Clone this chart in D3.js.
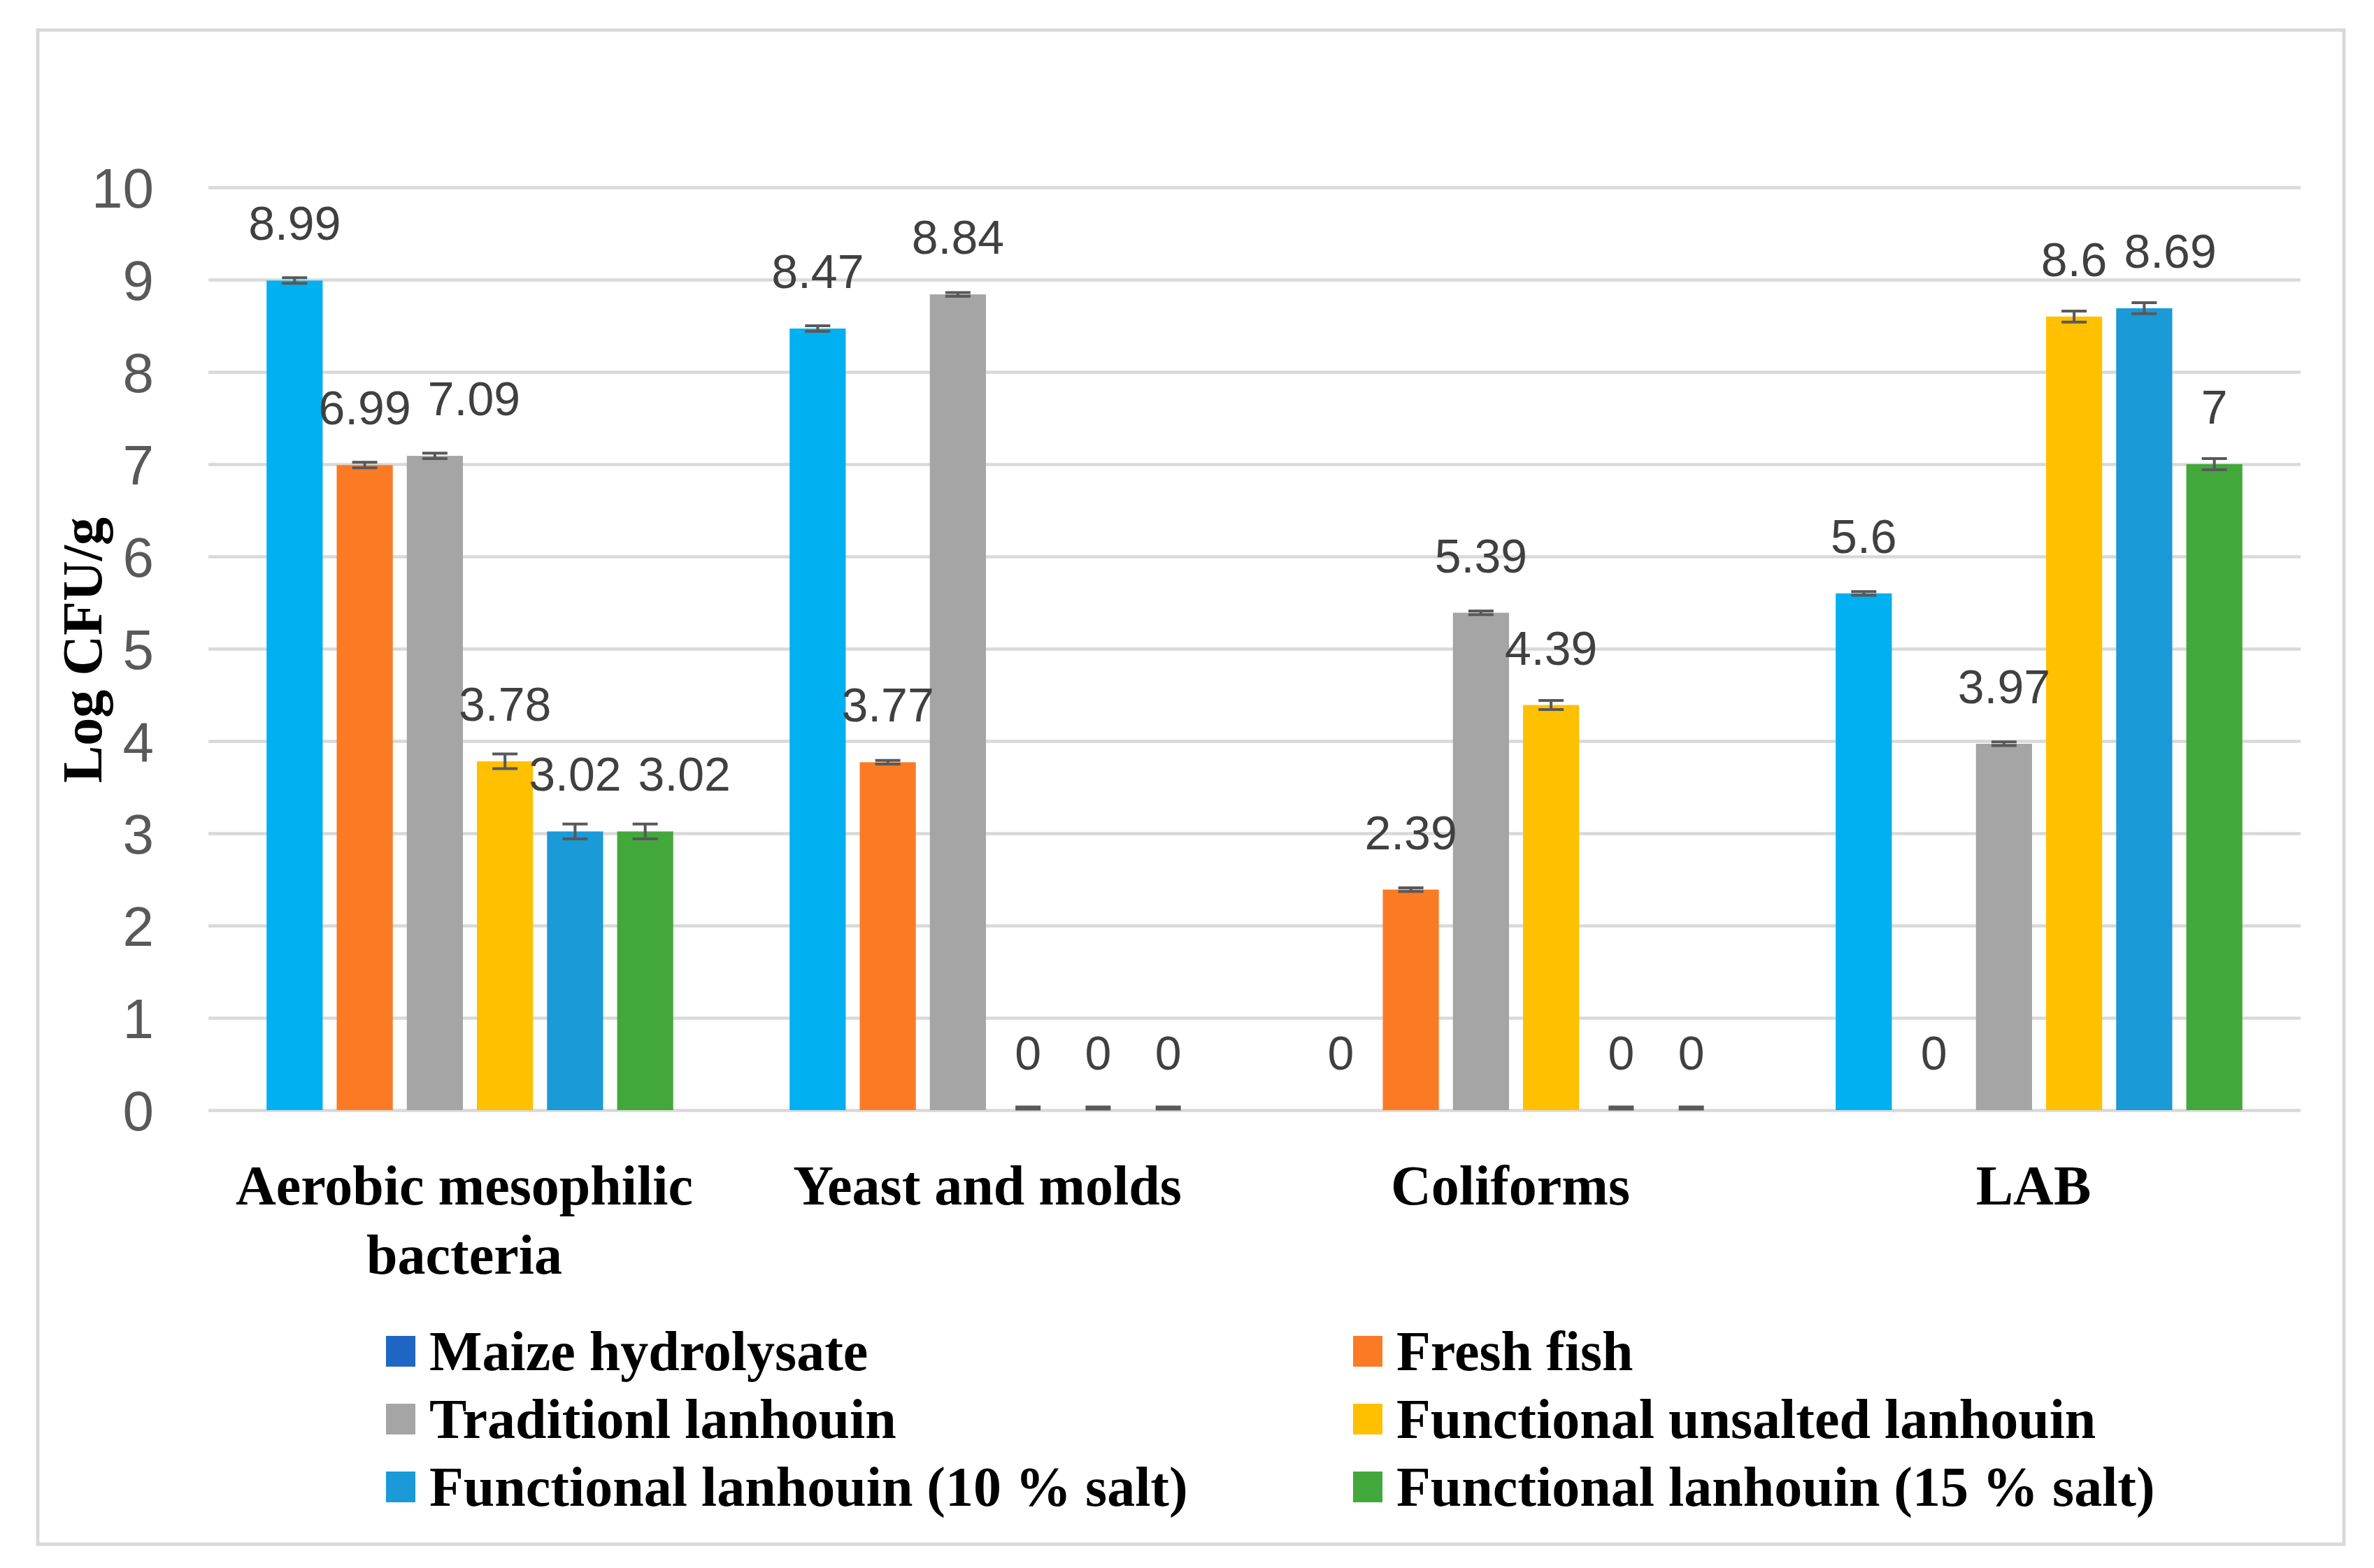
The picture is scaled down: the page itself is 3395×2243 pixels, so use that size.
<!DOCTYPE html>
<html lang="en">
<head>
  <meta charset="UTF-8">
  <title>Microbial counts (Log CFU/g)</title>
  <script src="https://d3js.org/d3.v7.min.js"></script>
  <style>
    body { margin: 0; background: #fff; }
    .tick-label { font-family: "Liberation Sans Narrow", "Arial Narrow", "Liberation Sans", sans-serif; font-size: 80px; fill: #595959; }
    .value-label { font-family: "Liberation Sans", Arial, sans-serif; font-size: 68px; fill: #404040; }
    .serif-bold { font-family: "Liberation Serif", "Times New Roman", serif; font-weight: bold; font-size: 80px; fill: #000; }
  </style>
</head>
<body>
  <script>
    // data
    const categories = ["Aerobic mesophilic\nbacteria", "Yeast and molds", "Coliforms", "LAB"];
    const seriesNames = [
      "Maize hydrolysate",
      "Fresh fish",
      "Traditionl lanhouin",
      "Functional unsalted lanhouin",
      "Functional lanhouin (10 % salt)",
      "Functional lanhouin (15 % salt)"
    ];
    const maizeValues       = [8.99, 8.47, 0, 5.6];
    const freshFishValues   = [6.99, 3.77, 2.39, 0];
    const traditionalValues = [7.09, 8.84, 5.39, 3.97];
    const unsaltedValues    = [3.78, 0, 4.39, 8.6];
    const salt10Values      = [3.02, 0, 0, 8.69];
    const salt15Values      = [3.02, 0, 0, 7];
    // +/- error, null = no error bar drawn
    const maizeErrors       = [0.03, 0.03, null, 0.02];
    const freshFishErrors   = [0.03, 0.02, 0.02, null];
    const traditionalErrors = [0.03, 0.02, 0.02, 0.02];
    const unsaltedErrors    = [0.08, 0, 0.05, 0.06];
    const salt10Errors      = [0.08, 0, 0, 0.06];
    const salt15Errors      = [0.08, 0, 0, 0.06];
    const yTicks = [0, 1, 2, 3, 4, 5, 6, 7, 8, 9, 10];

    const seriesValues = [maizeValues, freshFishValues, traditionalValues, unsaltedValues, salt10Values, salt15Values];
    const seriesErrors = [maizeErrors, freshFishErrors, traditionalErrors, unsaltedErrors, salt10Errors, salt15Errors];

    // colours (legend swatch of the first series differs from its bars, as in the original)
    const barColors    = ["#00b0f0", "#fb7b24", "#a5a5a5", "#ffc000", "#1a9ad6", "#43a83b"];
    const legendColors = ["#1f66c4", "#fb7b24", "#a5a5a5", "#ffc000", "#1a9ad6", "#43a83b"];

    // dimensions
    const W = 3395, H = 2243;
    const plot = { left: 298, right: 3290, top: 268, bottom: 1588 };

    const svg = d3.select("body").append("svg")
      .attr("width", W).attr("height", H);

    // outer frame
    svg.append("rect")
      .attr("x", 54).attr("y", 43)
      .attr("width", 3298).attr("height", 2166)
      .attr("fill", "#fff")
      .attr("stroke", "#d9d9d9").attr("stroke-width", 5);

    // scales
    const x0 = d3.scaleBand()
      .domain(categories)
      .range([plot.left, plot.right])
      .padding(0);

    const x1 = d3.scaleBand()
      .domain(seriesNames)
      .range([0, x0.bandwidth()])
      .paddingInner(0.2)
      .paddingOuter(0.83);

    const y = d3.scaleLinear()
      .domain([0, 10])
      .range([plot.bottom, plot.top]);

    // y axis with gridlines
    const yAxis = svg.append("g")
      .attr("transform", `translate(${plot.left},0)`)
      .call(d3.axisLeft(y).tickValues(yTicks).tickSize(-(plot.right - plot.left)).tickPadding(78));
    yAxis.select(".domain").remove();
    yAxis.selectAll(".tick line").attr("stroke", "#d9d9d9").attr("stroke-width", 4.5);
    yAxis.selectAll(".tick text")
      .attr("class", "tick-label")
      .attr("dy", "0.35em")
      .attr("fill", null);
    yAxis.attr("font-family", null).attr("font-size", null);

    // rows for bars
    const rows = [];
    categories.forEach((cat, ci) => {
      seriesNames.forEach((name, si) => {
        rows.push({ cat, ci, name, si, value: seriesValues[si][ci], err: seriesErrors[si][ci] });
      });
    });

    const barX = d => x0(d.cat) + x1(d.name);

    svg.append("g").selectAll("rect")
      .data(rows.filter(d => d.value > 0))
      .enter().append("rect")
      .attr("x", barX)
      .attr("y", d => y(d.value))
      .attr("width", x1.bandwidth())
      .attr("height", d => y(0) - y(d.value))
      .attr("fill", d => barColors[d.si]);

    // error bars
    const capW = 36;
    const eb = svg.append("g")
      .attr("stroke", "#595959").attr("stroke-width", 4).attr("fill", "none");
    rows.filter(d => d.err !== null).forEach(d => {
      const cx = barX(d) + x1.bandwidth() / 2;
      const lo = y(Math.max(0, d.value - d.err)), hi = y(d.value + d.err);
      if (d.err === 0) {
        eb.append("line")
          .attr("x1", cx - capW / 2).attr("x2", cx + capW / 2)
          .attr("y1", y(0) - 3).attr("y2", y(0) - 3)
          .attr("stroke-width", 7);
        return;
      }
      eb.append("line").attr("x1", cx).attr("x2", cx).attr("y1", lo).attr("y2", hi);
      eb.append("line").attr("x1", cx - capW / 2).attr("x2", cx + capW / 2).attr("y1", lo).attr("y2", lo);
      eb.append("line").attr("x1", cx - capW / 2).attr("x2", cx + capW / 2).attr("y1", hi).attr("y2", hi);
    });

    // value labels
    const labels = svg.append("g").selectAll("text")
      .data(rows)
      .enter().append("text")
      .attr("class", "value-label")
      .attr("text-anchor", "middle")
      .attr("x", d => barX(d) + x1.bandwidth() / 2)
      .attr("y", d => y(d.value) - 58)
      .text(d => d.value);

    // nudge a label to the right when it collides with the previous one in its group
    const labelGap = 24;
    let prev = null;
    labels.each(function(d) {
      const node = this;
      if (prev && prev.ci === d.ci) {
        const a = prev.node.getBBox(), b = node.getBBox();
        const vOverlap = b.y < a.y + a.height && a.y < b.y + b.height;
        const hOverlap = a.x + a.width + labelGap - b.x;
        if (vOverlap && hOverlap > 0) {
          d3.select(node).attr("x", +d3.select(node).attr("x") + hOverlap);
        }
      }
      prev = { ci: d.ci, node };
    });

    // category labels
    const catG = svg.append("g");
    categories.forEach(cat => {
      const cx = x0(cat) + x0.bandwidth() / 2 - 8;
      const t = catG.append("text")
        .attr("class", "serif-bold")
        .attr("text-anchor", "middle")
        .attr("x", cx)
        .attr("y", 1723);
      cat.split("\n").forEach((line, i) => {
        t.append("tspan")
          .attr("x", cx)
          .attr("dy", i === 0 ? 0 : 99)
          .text(line);
      });
    });

    // y axis title
    svg.append("text")
      .attr("class", "serif-bold")
      .attr("font-size", 78)
      .attr("text-anchor", "middle")
      .attr("transform", "translate(145,930) rotate(-90)")
      .text("Log CFU/g");

    // legend: 2 columns, 3 rows
    const legCols = [552, 1935], legTextOffset = 62, legRow0 = 1960, legRowStep = 97;
    const leg = svg.append("g");
    seriesNames.forEach((name, i) => {
      const col = i % 2, row = Math.floor(i / 2);
      const lx = legCols[col], ly = legRow0 + row * legRowStep;
      leg.append("rect")
        .attr("x", lx).attr("y", ly - 49)
        .attr("width", 42).attr("height", 44)
        .attr("fill", legendColors[i]);
      leg.append("text")
        .attr("class", "serif-bold")
        .attr("x", lx + legTextOffset).attr("y", ly)
        .text(name);
    });
  </script>
</body>
</html>
